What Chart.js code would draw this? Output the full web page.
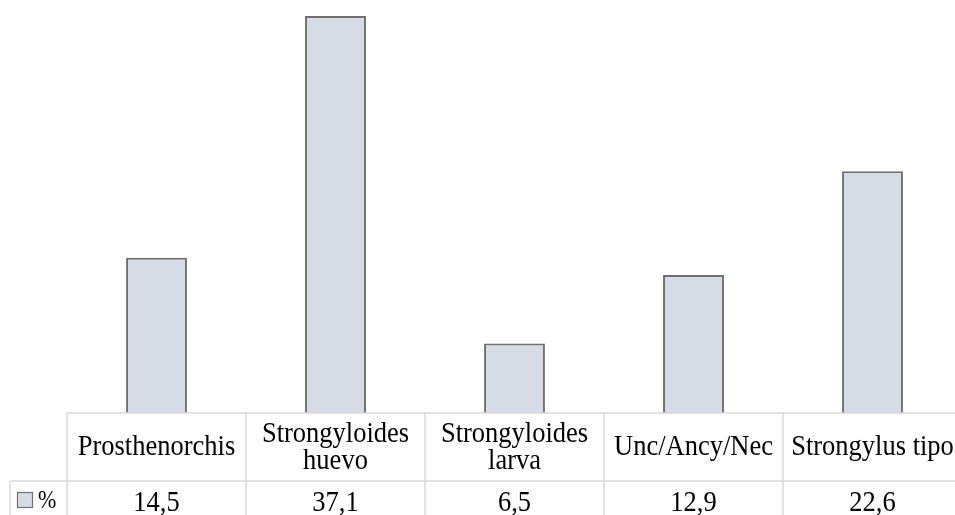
<!DOCTYPE html>
<html>
<head>
<meta charset="utf-8">
<script src="https://cdn.jsdelivr.net/npm/chart.js@4"></script>
<style>
  html, body { margin: 0; padding: 0; background: #fff; overflow: hidden; }
  #wrap { width: 955px; height: 515px; overflow: hidden; }
</style>
</head>
<body>
<div id="wrap"><canvas id="chart" width="980" height="515"></canvas></div>
<script>
// categorías (cada una en líneas como en la tabla)
const categories = [
    ['Prosthenorchis'],
    ['Strongyloides', 'huevo'],
    ['Strongyloides', 'larva'],
    ['Unc/Ancy/Nec'],
    ['Strongylus tipo']
];
const seriesName = '%';
const percentages = [14.5, 37.1, 6.5, 12.9, 22.6];

const FONT = '"Liberation Serif", "Times New Roman", serif';
const GRID = '#d9d9d9';

function fmt(v) {
    return v.toFixed(1).replace('.', ',');
}

// texto un poco estirado en vertical, como en la figura original
function text(ctx, t, x, y, sy) {
    ctx.save();
    ctx.translate(x, y);
    ctx.scale(1, sy);
    ctx.fillText(t, 0, 0);
    ctx.restore();
}

// dibuja la tabla de datos debajo del gráfico
const dataTable = {
    id: 'dataTable',
    afterDraw(chart) {
        const ctx = chart.ctx;
        const x = chart.scales.x;
        const area = chart.chartArea;
        const top = area.bottom;
        const rowSplit = top + 68;
        const bottom = 540;
        const right = chart.width;
        const n = categories.length;
        const half = (x.getPixelForValue(1) - x.getPixelForValue(0)) / 2;
        const SY = 1.12;

        ctx.save();
        ctx.strokeStyle = GRID;
        ctx.lineWidth = 1.5;
        ctx.beginPath();
        ctx.moveTo(area.left, top); ctx.lineTo(right, top);
        ctx.moveTo(10, rowSplit); ctx.lineTo(right, rowSplit);
        ctx.moveTo(10, rowSplit); ctx.lineTo(10, bottom);
        for (let i = 0; i <= n; i++) {
            const px = Math.round(x.getPixelForValue(i) - half);
            ctx.moveTo(px, top); ctx.lineTo(px, bottom);
        }
        ctx.stroke();

        ctx.fillStyle = '#000';
        ctx.font = '26.5px ' + FONT;
        ctx.textAlign = 'center';
        ctx.textBaseline = 'alphabetic';
        categories.forEach((lines, i) => {
            const cx = x.getPixelForValue(i);
            if (lines.length === 1) {
                text(ctx, lines[0], cx, top + 42, SY);
            } else {
                lines.forEach((t, j) => text(ctx, t, cx, top + 29 + j * 27, SY));
            }
            text(ctx, fmt(percentages[i]), cx, rowSplit + 30, SY);
        });

        // clave de la serie
        const ds = chart.data.datasets[0];
        ctx.fillStyle = ds.backgroundColor;
        ctx.fillRect(18, rowSplit + 12, 14, 14);
        ctx.strokeStyle = ds.borderColor;
        ctx.lineWidth = 1.2;
        ctx.strokeRect(17.5, rowSplit + 11.5, 15, 15);
        ctx.fillStyle = '#000';
        ctx.textAlign = 'left';
        ctx.font = '22px ' + FONT;
        text(ctx, seriesName, 38, rowSplit + 27, SY);
        ctx.restore();
    }
};

new Chart(document.getElementById('chart'), {
    type: 'bar',
    data: {
        labels: categories,
        datasets: [{
            label: seriesName,
            data: percentages,
            backgroundColor: '#d6dce5',
            borderColor: '#707070',
            borderWidth: 2,
            borderSkipped: 'bottom',
            categoryPercentage: 1,
            barPercentage: 0.34
        }]
    },
    options: {
        responsive: false,
        animation: false,
        layout: { padding: { left: 67, right: 18, top: 0, bottom: 102 } },
        plugins: { legend: { display: false }, tooltip: { enabled: false } },
        scales: {
            x: { display: false, offset: true },
            y: { display: false, min: 0, max: 38.6 }
        }
    },
    plugins: [dataTable]
});
</script>
</body>
</html>
